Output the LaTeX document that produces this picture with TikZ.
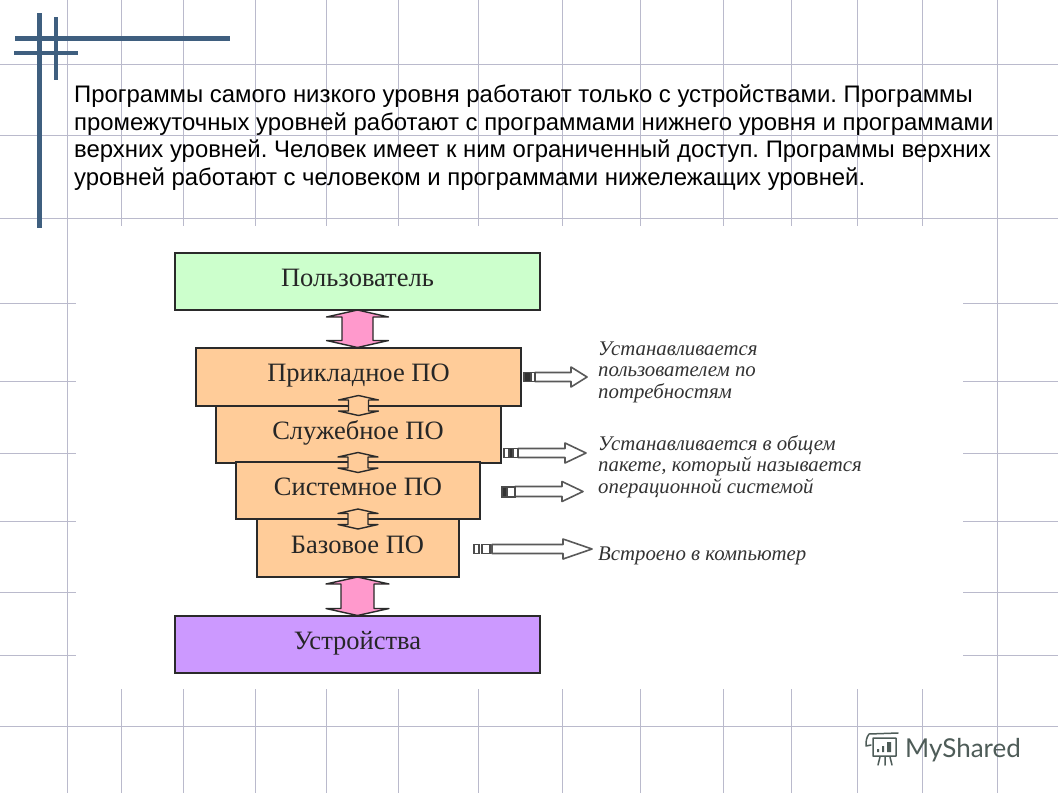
\documentclass[tikz,border=0pt]{standalone}
\usepackage{fontspec}
\setmainfont{Liberation Serif}
\newfontfamily\arialf{Liberation Sans}
\newfontfamily\logof{Lato}
\usetikzlibrary{calc}
\frenchspacing
\definecolor{gridc}{HTML}{BABACC}
\definecolor{barc}{HTML}{3F5F7F}
\definecolor{userc}{HTML}{CCFFCC}
\definecolor{softc}{HTML}{FFCC99}
\definecolor{devc}{HTML}{CC99FF}
\definecolor{pinkc}{HTML}{FF99CC}
\definecolor{edgec}{HTML}{2A2A2A}
\definecolor{logoc}{HTML}{4E5C58}
\newcommand{\lbl}[1]{\raisebox{7.5pt}{#1}}
\tikzset{
  gridline/.style={draw=gridc,line width=1pt},
  bar/.style={draw=barc,line width=5pt},
  thinbar/.style={draw=barc,line width=4pt},
  layerbox/.style={draw=edgec,line width=2pt,outer sep=0pt,inner sep=0pt,
    font=\fontsize{26.5}{30}\selectfont,text=black!85},
  bigarrow/.style={draw=edgec,line width=1.4pt,fill=pinkc,line join=round},
  smallarrow/.style={draw=edgec,line width=1.4pt,fill=softc,line join=round},
  sidearrow/.style={draw=black!65,line width=1.6pt,fill=white,line join=round},
  tagcell/.style={draw=black!70,line width=1.2pt,fill=white},
  tagdark/.style={draw=black!70,line width=1.2pt,fill=black!80},
  note/.style={anchor=base west,inner sep=0pt,align=left,
    font=\itshape\fontsize{20.8}{21.5}\selectfont,text=black!80},
  logoline/.style={draw=logoc,line width=1.5pt,line cap=round,line join=round},
}
% vertical double arrow between two stacked nodes
\newcommand{\vdouble}[6]{% style, upper, lower, half shaft, half wing, wing depth
  \path let \p1=(#2.south), \p2=(#3.north) in
    [#1] (\x1,\y1) -- (\x1+#5,\y1-#6) -- (\x1+#4,\y1-#6) -- (\x1+#4,\y2+#6) --
    (\x1+#5,\y2+#6) -- (\x1,\y2) -- (\x1-#5,\y2+#6) -- (\x1-#4,\y2+#6) --
    (\x1-#4,\y1-#6) -- (\x1-#5,\y1-#6) -- cycle;}
% small double arrow straddling the joint of two nodes
\newcommand{\joint}[2]{%
  \path let \p1=(#1.south), \p2=(#2.north) in
    [smallarrow] (\x1,\y1+10pt) -- (\x1+20pt,\y1+5.5pt) -- (\x1+10pt,\y1+5.5pt) --
    (\x1+10pt,\y1-5.5pt) -- (\x1+20pt,\y1-5.5pt) -- (\x1,\y1-10pt) --
    (\x1-20pt,\y1-5.5pt) -- (\x1-10pt,\y1-5.5pt) -- (\x1-10pt,\y1+5.5pt) --
    (\x1-20pt,\y1+5.5pt) -- cycle;}
% hollow side arrow: from x, head x, tip x, y, half height
\newcommand{\sidearrowat}[5]{%
  \path[sidearrow] (#1,#4-#5) -- (#2,#4-#5) -- (#2,#4-10) -- (#3,#4) --
    (#2,#4+10) -- (#2,#4+#5) -- (#1,#4+#5) -- cycle;}
\begin{document}
\begin{tikzpicture}[x=1pt,y=-1pt]
\useasboundingbox (0,0) rectangle (1058,793);
\fill[white] (0,0) rectangle (1058,793);
% grid
\foreach \gx in {121,183,255,326,398,478,562,640,723,791,857,922}{
  \draw[gridline] (\gx,0) -- (\gx,226);
  \draw[gridline] (\gx,689) -- (\gx,793);
}
\draw[gridline] (67,0) -- (67,793);
\draw[gridline] (997,0) -- (997,793);
\foreach \gy in {64,135,218,726}{ \draw[gridline] (0,\gy) -- (1058,\gy); }
\foreach \gy in {303,381,453,521,592,655}{
  \draw[gridline] (0,\gy) -- (76,\gy);
  \draw[gridline] (963,\gy) -- (1058,\gy);
}
% corner bars
\draw[bar] (39,13) -- (39,228);
\draw[thinbar] (56,17) -- (56,80);
\draw[bar] (15,38) -- (230,38);
\draw[thinbar] (14,53) -- (78,53);
% heading
\node[anchor=north west,inner sep=0pt,align=left,text=black,
  font=\arialf\fontsize{23.9}{27.7}\selectfont] (lead) at (74,84.5)
  {Программы самого низкого уровня работают только с устройствами. Программы\\
   промежуточных уровней работают с программами нижнего уровня и программами\\
   верхних уровней. Человек имеет к ним ограниченный доступ. Программы верхних\\
   уровней работают с человеком и программами нижележащих уровней.};
% layers
\node[layerbox,fill=userc,minimum width=365pt,minimum height=57pt] (user) at (357.5,281.5) {\lbl{Пользователь}};
\node[layerbox,fill=softc,minimum width=325pt,minimum height=58pt] (app) at (358.5,376.5) {\lbl{Прикладное ПО}};
\node[layerbox,fill=softc,minimum width=285pt,minimum height=57pt] (util) at (358,434) {\lbl{Служебное ПО}};
\node[layerbox,fill=softc,minimum width=244pt,minimum height=57pt] (sys) at (358,490.5) {\lbl{Системное ПО}};
\node[layerbox,fill=softc,minimum width=202pt,minimum height=58pt] (base) at (357.5,548) {\lbl{Базовое ПО}};
\node[layerbox,fill=devc,minimum width=365pt,minimum height=57pt] (dev) at (357.5,644) {\lbl{Устройства}};
% arrows between layers
\vdouble{bigarrow}{user}{app}{15.5pt}{31pt}{7pt}
\vdouble{bigarrow}{base}{dev}{16.5pt}{31.5pt}{7pt}
\joint{app}{util}
\joint{util}{sys}
\joint{sys}{base}
% side arrows
\sidearrowat{535}{571}{587}{377}{4.5}
\draw[tagdark] (524,372.5) rectangle (531,381.5);
\draw[tagcell] (531,372.5) rectangle (535,381.5);
\sidearrowat{518}{565}{586}{453}{4.5}
\draw[tagcell] (504,448.5) rectangle (509,457.5);
\draw[tagdark] (509,448.5) rectangle (513,457.5);
\draw[tagcell] (513,448.5) rectangle (518,457.5);
\sidearrowat{515}{562}{583}{491.5}{5}
\draw[tagdark] (502,487) rectangle (507,497);
\draw[tagcell] (507,487) rectangle (515,497);
\sidearrowat{492}{563}{592}{549}{4.5}
\draw[tagcell] (474,544.5) rectangle (479,553.5);
\draw[tagcell] (482,544.5) rectangle (490,553.5);
% notes
\node[note] (note1) at (598,398) {Устанавливается\\пользователем по\\потребностям};
\node[note] (note2) at (598,493) {Устанавливается в общем\\пакете, который называется\\операционной системой};
\node[note] (note3) at (598,560) {Встроено в компьютер};
% logo
\draw[logoline] (869,734) -- (898,733) (869,734) .. controls (866,738) and (866,742) .. (866,746) -- (871,745)
  (873,738) -- (896,738) -- (896,756) -- (873,756) -- (873,738);
\draw[logoline] (878,765) -- (880,757) (885,765) -- (885,757) (892,765) -- (890,757);
\fill[logoc] (877,749) rectangle (879,752) (882,746) rectangle (884,752) (887,742) rectangle (891,752);
\node[anchor=base west,inner sep=0pt,text=logoc,font=\logof\fontsize{26}{30}\selectfont] (logo) at (905,757) {MyShared};
\end{tikzpicture}
\end{document}
